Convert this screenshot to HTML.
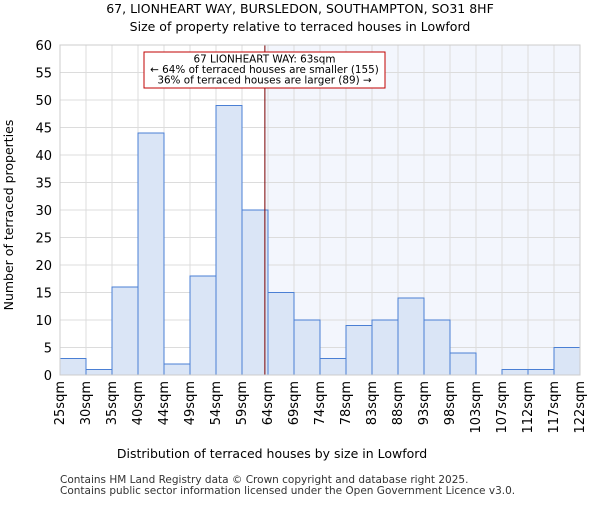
<!DOCTYPE html>
<html><head><meta charset="utf-8"><style>
body{margin:0;background:#fff;font-family:"Liberation Sans","DejaVu Sans",sans-serif}
svg text{font-family:"DejaVu Sans","Liberation Sans",sans-serif}
</style></head><body>
<svg id="c" width="600" height="500" xmlns="http://www.w3.org/2000/svg">
<text x="300" y="13" font-size="12.5" text-anchor="middle">67, LIONHEART WAY, BURSLEDON, SOUTHAMPTON, SO31 8HF</text>
<text x="300" y="31" font-size="12.5" text-anchor="middle">Size of property relative to terraced houses in Lowford</text>
<g id="plot"></g>
<text x="272" y="458" font-size="12.5" text-anchor="middle">Distribution of terraced houses by size in Lowford</text>
<text transform="translate(13,215) rotate(-90)" font-size="12.5" text-anchor="middle">Number of terraced properties</text>
<text x="60" y="483" font-size="10.5" fill="#333">Contains HM Land Registry data © Crown copyright and database right 2025.</text>
<text x="60" y="494" font-size="10.5" fill="#333">Contains public sector information licensed under the Open Government Licence v3.0.</text>
</svg>
<script>
const categories=["25sqm","30sqm","35sqm","40sqm","44sqm","49sqm","54sqm","59sqm","64sqm","69sqm","74sqm","78sqm","83sqm","88sqm","93sqm","98sqm","103sqm","107sqm","112sqm","117sqm","122sqm"];
const counts=[3,1,16,44,2,18,49,30,15,10,3,9,10,14,10,4,0,1,1,5];
const yTicks=[0,5,10,15,20,25,30,35,40,45,50,55,60];
const markerBin=7.88;
const NS="http://www.w3.org/2000/svg";
const L=60,R=580,T=45,B=375,n=counts.length,bw=(R-L)/n;
const x=i=>L+i*bw, y=v=>B-(B-T)*v/60;
const g=document.getElementById('plot');
function mk(t,a,p){const e=document.createElementNS(NS,t);for(const k in a)e.setAttribute(k,a[k]);(p||g).appendChild(e);return e;}
let e;
e=mk('rect',{x:x(markerBin),y:T,width:R-x(markerBin),height:B-T,fill:'#f3f6fd'});


yTicks.forEach(v=>{e=mk('line',{x1:L,x2:R,y1:y(v),y2:y(v),stroke:'#dcdcdc'});


e=mk('text',{x:L-8,y:y(v)+5,'font-size':13,'text-anchor':'end'});e.textContent=v;

});
categories.forEach((c,i)=>{e=mk('line',{x1:x(i),x2:x(i),y1:T,y2:B,stroke:'#dcdcdc'});


e=mk('text',{transform:`translate(${x(i)+4},${B+6}) rotate(-90)`,'font-size':13,'text-anchor':'end'});e.textContent=c;

});
counts.forEach((v,i)=>{if(!v)return;e=mk('rect',{x:x(i),y:y(v),width:bw,height:B-y(v),fill:'#dae5f6',stroke:'#4a7fd4','stroke-width':1});

});
e=mk('line',{x1:x(markerBin),x2:x(markerBin),y1:T,y2:B,stroke:'#7a0000','stroke-width':1});


e=mk('rect',{x:L,y:T,width:R-L,height:B-T,fill:'none',stroke:'#ccc'});


e=mk('rect',{x:144,y:52,width:241,height:36,fill:'#fff',stroke:'#c00000','stroke-width':1});


["67 LIONHEART WAY: 63sqm","← 64% of terraced houses are smaller (155)","36% of terraced houses are larger (89) →"].forEach((s,i)=>{
e=mk('text',{x:264.5,y:62.5+i*10.5,'font-size':10.4,'text-anchor':'middle'});e.textContent=s;

});
</script>
</body></html>
